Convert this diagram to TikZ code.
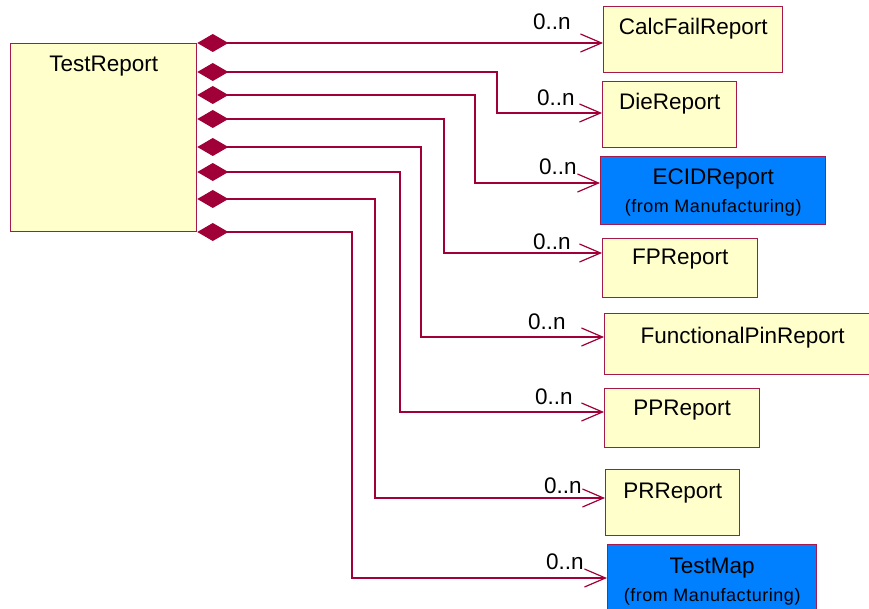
\documentclass[tikz,border=0pt]{standalone}
\usepackage{fontspec}
\setmainfont{Liberation Sans}
\usetikzlibrary{arrows.meta}
\definecolor{wire}{RGB}{160,0,55}
\definecolor{frame}{RGB}{165,25,75}
\definecolor{cream}{RGB}{255,255,204}
\definecolor{azure}{RGB}{0,128,255}

\begin{document}
\begin{tikzpicture}[x=1pt,y=-1pt,
  cls/.style={draw=frame, line width=1.3pt, fill=cream, rectangle, inner sep=0pt, anchor=north west},
  ext/.style={cls, fill=azure},
  title/.style={font=\fontsize{22.5}{26}\selectfont, anchor=base, inner sep=0pt},
  sub/.style={font=\fontsize{18}{22}\selectfont\addfontfeature{LetterSpace=3}, anchor=base, inner sep=0pt},
  mult/.style={font=\fontsize{22.5}{26}\selectfont, anchor=base west, inner sep=0pt},
  assoc/.style={draw=wire, line width=1.2pt,
    {Diamond[length=31pt,width=18pt,fill=wire]}-{Straight Barb[length=21pt,width=18pt]}}]

\useasboundingbox (0,0) rectangle (869,609);

% aggregate class
\node[cls, minimum width=186pt, minimum height=188pt] (tr) at (10,43) {};
\node[title] (trt) at ([yshift=-29pt]tr.north) {TestReport};

% part classes
\node[cls, minimum width=179pt, minimum height=66pt] (cf) at (603,6) {};
\node[title] (cft) at ([yshift=-29pt]cf.north) {CalcFailReport};

\node[cls, minimum width=134pt, minimum height=66pt] (dr) at (602,81) {};
\node[title] (drt) at ([yshift=-29pt]dr.north) {DieReport};

\node[ext, minimum width=225pt, minimum height=68pt] (ec) at (600,156) {};
\node[title] (ect) at ([yshift=-29pt]ec.north) {ECIDReport};
\node[sub] (ecs) at ([yshift=-57pt]ec.north) {(from Manufacturing)};

\node[cls, minimum width=155pt, minimum height=59pt] (fp) at (602,238) {};
\node[title] (fpt) at ([yshift=-27pt]fp.north) {FPReport};

\node[cls, minimum width=276pt, minimum height=61pt] (fn) at (604,313) {};
\node[title] (fnt) at ([yshift=-30pt]fn.north) {FunctionalPinReport};

\node[cls, minimum width=155pt, minimum height=59pt] (pp) at (604,388) {};
\node[title] (ppt) at ([yshift=-27pt]pp.north) {PPReport};

\node[cls, minimum width=134pt, minimum height=66pt] (pr) at (605,469) {};
\node[title] (prt) at ([yshift=-29pt]pr.north) {PRReport};

\node[ext, minimum width=209pt, minimum height=70pt] (tm) at (607,544) {};
\node[title] (tmt) at ([yshift=-29pt]tm.north) {TestMap};
\node[sub] (tms) at ([yshift=-57pt]tm.north) {(from Manufacturing)};

% composition links
\draw[assoc] (tr.north east) -- (cf.west |- tr.north east);
\draw[assoc] (tr.east |- 0,72)  -| (497,113) -- (dr.west |- 0,113);
\draw[assoc] (tr.east |- 0,95)  -| (475,183) -- (ec.west |- 0,183);
\draw[assoc] (tr.east |- 0,119) -| (444,253) -- (fp.west |- 0,253);
\draw[assoc] (tr.east |- 0,147) -| (421,337) -- (fn.west |- 0,337);
\draw[assoc] (tr.east |- 0,172) -| (400,412) -- (pp.west |- 0,412);
\draw[assoc] (tr.east |- 0,199) -| (375,498) -- (pr.west |- 0,498);
\draw[assoc] (tr.east |- 0,232) -| (352,578) -- (tm.west |- 0,578);

% multiplicities
\node[mult] (m1) at (533,30)  {0..n};
\node[mult] (m2) at (537,106) {0..n};
\node[mult] (m3) at (539,175) {0..n};
\node[mult] (m4) at (533,250) {0..n};
\node[mult] (m5) at (528,329) {0..n};
\node[mult] (m6) at (535,404) {0..n};
\node[mult] (m7) at (544,493) {0..n};
\node[mult] (m8) at (546,569) {0..n};
\end{tikzpicture}
\end{document}
